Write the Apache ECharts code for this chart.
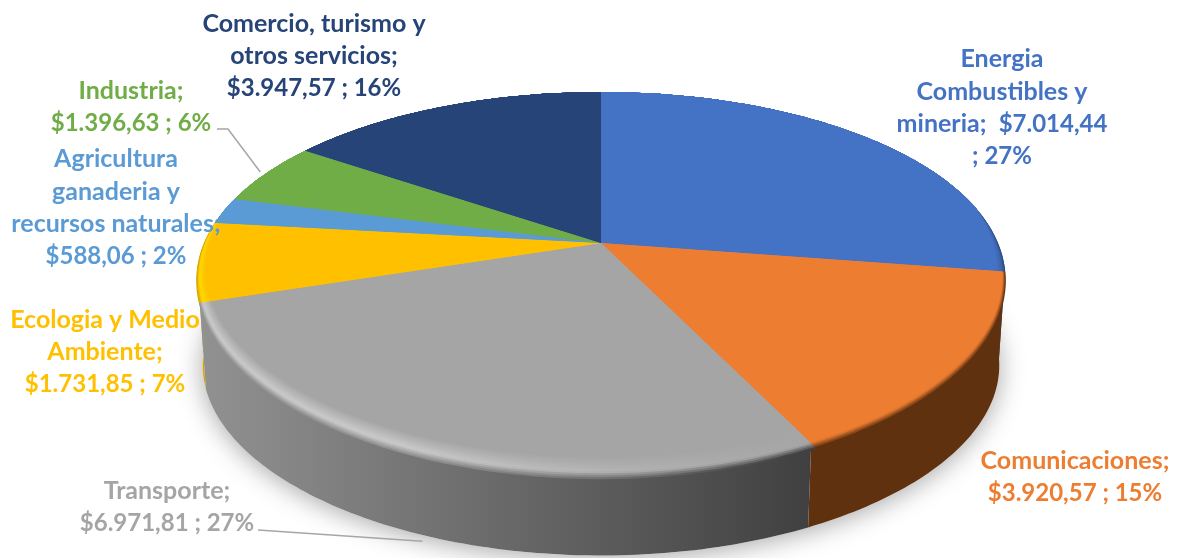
<!DOCTYPE html>
<html>
<head>
<meta charset="utf-8">
<title>Inversion por sector</title>
<style>
  html, body { margin: 0; padding: 0; background: #fff; }
  #chart { width: 1178px; height: 558px; }
</style>
<script src="https://cdn.jsdelivr.net/npm/echarts@6/dist/echarts.min.js"></script>
</head>
<body>
<div id="chart"></div>
<script>
// data
const sectors = [
  'Energia\nCombustibles y\nmineria;  ',
  'Comunicaciones;\n',
  'Transporte;\n',
  'Ecologia y Medio\nAmbiente;\n',
  'Agricultura\nganaderia y\nrecursos naturales;\n',
  'Industria;\n',
  'Comercio, turismo y\notros servicios;\n'
]
const amounts = [7014.44, 3920.57, 6971.81, 1731.85, 588.06, 1396.63, 3947.57]
const percents = [27, 15, 27, 7, 2, 6, 16]
const percentJoin = ['\n; ', ' ; ', ' ; ', ' ; ', ' ; ', ' ; ', ' ; ']

// slice styles
const topColors = ['#4472c4', '#ed7d31', '#a5a5a5', '#ffc000', '#5b9bd5', '#70ad47', '#264478']
const sideLeft = ['#2b4a80', '#60310f', '#929292', '#d9a300', '#3a6ea0', '#4a7530', '#182c50']
const sideRight = ['#2b4a80', '#60310f', '#404040', '#d9a300', '#3a6ea0', '#4a7530', '#182c50']
const rimLeft = ['#3a62a8', '#ed7d31', '#cacaca', '#ffd800', '#5b9bd5', '#70ad47', '#264478']
const rimRight = ['#3a62a8', '#ed7d31', '#a5a5a5', '#ffd800', '#5b9bd5', '#70ad47', '#264478']

// label layout (centre of each text block)
const labelX = [1002, 1075, 167, 105, 116, 131, 314]
const labelY = [108, 477, 507, 352, 208, 107, 56]

// the tilted disc: top face is a circle seen in perspective
const cx = 601, topY = 243, bottomY = 330
const radiusX = 397, radiusY = 182, tiltX = 0.19, tiltY = 0.205, bottomScale = 0.985
const gradX0 = 197, gradX1 = 810

const total = amounts.reduce((a, b) => a + b, 0)

const project = (deg, r, y0, s) => {
  const a = deg * Math.PI / 180
  const u = r * Math.sin(a)
  const v = -r * Math.cos(a)
  return [cx + s * radiusX * u / (1 - tiltX * v), y0 + s * radiusY * v / (1 - tiltY * v)]
}

const formatAmount = v => {
  const [whole, dec] = v.toFixed(2).split('.')
  return '$' + whole.replace(/\B(?=(\d{3})+$)/g, '.') + ',' + dec
}

// names a touch larger than numbers, Lato digits run wide
const labelText = (i, amount) => {
  const wrap = (s, tag) => s.split('\n').map(line => line ? `{${tag}|${line}}` : '').join('\n')
  return wrap(sectors[i], 'name') + wrap(formatAmount(amount) + percentJoin[i] + percents[i] + '%', 'num')
}

const arc = (from, to) => {
  const out = []
  const n = Math.max(2, Math.ceil(to - from))
  for (let i = 0; i <= n; i++) out.push(from + (to - from) * i / n)
  return out
}

const xGradient = stops => ({
  type: 'linear', x: gradX0, y: 0, x2: gradX1, y2: 0, global: true,
  colorStops: stops.map((c, i) => ({ offset: i / (stops.length - 1), color: c }))
})

// bevel inner width at this angle, none on the far side
const bevelAt = deg => {
  const v = -Math.cos(deg * Math.PI / 180)
  return Math.pow(Math.max(0, v + 0.2) / 1.2, 0.75)
}

// the bevel only pushes past the rim at the very front
const bulgeAt = deg => {
  const v = Math.max(0, -Math.cos(deg * Math.PI / 180))
  return 0.025 * v * v
}

const renderSlice = (params, api) => {
  const i = params.dataIndex
  const sum = amounts.slice(0, i).reduce((a, b) => a + b, 0)
  const start = sum / total * 360
  const end = (sum + api.value(0)) / total * 360
  const degs = arc(start, end)
  const mid = (start + end) / 2
  const children = []

  if (i === 0) {
    // soft shadow under the disc
    children.push({
      type: 'polygon',
      z2: 0,
      shape: { points: arc(0, 360).map(d => project(d, 1, bottomY, bottomScale)) },
      style: { fill: '#ffffff', shadowBlur: 26, shadowColor: 'rgba(0,0,0,0.35)', shadowOffsetY: 3 }
    })
  }

  // side wall
  const wall = degs.map(d => project(d, 1, topY, 1))
    .concat(degs.slice().reverse().map(d => project(d, 1, bottomY, bottomScale)))
  children.push({
    type: 'polygon',
    z2: 1 - Math.cos(mid * Math.PI / 180),
    shape: { points: wall },
    style: { fill: xGradient([sideLeft[i], sideRight[i]]) }
  })

  // top face, nested sectors make the bevel blur from wall to face
  const levels = 12
  for (let k = 0; k < levels; k++) {
    const t = k / (levels - 1)
    const mixAt = (side, rim) => t < 0.3
      ? echarts.color.lerp(t / 0.3, [side, rim])
      : echarts.color.lerp((t - 0.3) / 0.7, [rim, topColors[i]])
    const rimMidStop = echarts.color.lerp(0.4, [rimRight[i], rimLeft[i]])
    const sideMidStop = echarts.color.lerp(0.6, [sideRight[i], sideLeft[i]])
    const points = [[cx, topY]].concat(degs.map(d =>
      project(d, 1 + bulgeAt(d) * (1 - t) - 0.05 * bevelAt(d) * t, topY, 1)
    ))
    children.push({
      type: 'polygon',
      z2: 4 + k * 0.01,
      shape: { points },
      style: {
        fill: xGradient([
          mixAt(sideLeft[i], rimLeft[i]),
          mixAt(sideLeft[i], rimLeft[i]),
          mixAt(sideMidStop, rimMidStop),
          mixAt(sideRight[i], rimRight[i])
        ])
      }
    })
  }

  // leader lines
  if (i === 5) {
    children.push({
      type: 'polyline',
      z2: 8,
      shape: { points: [[217, 129], [228, 129], project(mid, 1.02, topY, 1)] },
      style: { fill: null, stroke: '#a6a6a6', lineWidth: 1.5 }
    })
  }
  if (i === 2) {
    children.push({
      type: 'polyline',
      z2: 8,
      shape: { points: [[258, 530], project(mid - 1.5, 1.02, bottomY, bottomScale)] },
      style: { fill: null, stroke: '#a6a6a6', lineWidth: 1.5 }
    })
  }

  const font = { fontFamily: 'Lato', fontWeight: 'bold', lineHeight: 32.5, fill: topColors[i] }
  children.push({
    type: 'text',
    z2: 10,
    style: {
      x: labelX[i],
      y: labelY[i],
      text: labelText(i, api.value(0)),
      fill: topColors[i],
      fontFamily: 'Lato',
      fontWeight: 'bold',
      fontSize: 25,
      lineHeight: 32.5,
      align: 'center',
      verticalAlign: 'middle',
      rich: {
        name: { ...font, fontSize: 25 },
        num: { ...font, fontSize: 24 }
      }
    }
  })

  return { type: 'group', children }
}

const chart = echarts.init(document.getElementById('chart'))
chart.setOption({
  animation: false,
  backgroundColor: '#ffffff',
  series: [{
    type: 'custom',
    coordinateSystem: 'none',
    silent: true,
    renderItem: renderSlice,
    data: amounts.map(v => [v])
  }]
})
</script>
</body>
</html>
